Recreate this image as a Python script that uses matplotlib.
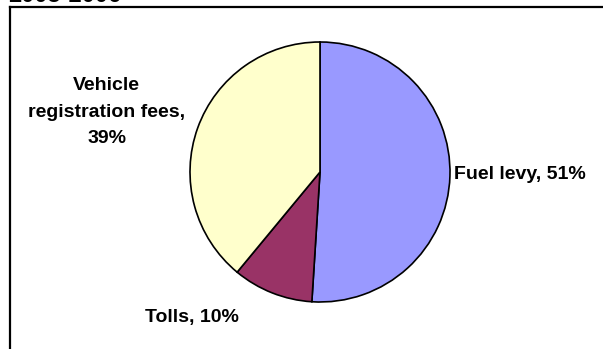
import matplotlib.pyplot as plt
from matplotlib.lines import Line2D

# Revenue shares
categories = ['Fuel levy', 'Tolls', 'Vehicle\nregistration fees']
shares = [51, 10, 39]
colors = ['#9999FF', '#993366', '#FFFFCC']
title = '2005-2006'

W, H = 603, 349
fig = plt.figure(figsize=(W / 100, H / 100), dpi=100)
fig.patch.set_facecolor('white')
plt.rcParams['font.family'] = ['Liberation Sans', 'DejaVu Sans']

# pie centre and radius in pixels
cx, cy, r = 320, 172, 130
ax = fig.add_axes([(cx - r) / W, (H - cy - r) / H, 2 * r / W, 2 * r / H])
wedges, _ = ax.pie(shares, colors=colors, startangle=90, counterclock=False,
                   wedgeprops=dict(edgecolor='black', linewidth=1.2))
ax.set_xlim(-1, 1)
ax.set_ylim(-1, 1)
ax.axis('off')

label_pos = [(1.03, -0.02, 'left'), (-0.985, -1.12, 'center'), (-1.64, 0.46, 'center')]
for name, val, (x, y, ha) in zip(categories, shares, label_pos):
    sep = ',\n' if '\n' in name else ', '
    ax.text(x, y, f'{name}{sep}{val}%', ha=ha, va='center', fontsize=14,
            fontweight='bold', linespacing=1.75, clip_on=False)

# chart border
fig.add_artist(Line2D([9.5 / W, 9.5 / W], [0, 1 - 7 / H], transform=fig.transFigure,
                      color='black', lw=1.6, solid_capstyle='projecting'))
fig.add_artist(Line2D([9.5 / W, 1], [1 - 7 / H, 1 - 7 / H], transform=fig.transFigure,
                      color='black', lw=1.6, solid_capstyle='projecting'))

fig.text(8 / W, 1 - 1.5 / H, title, ha='left', va='baseline', fontsize=17, fontweight='bold')

fig.savefig('out.png', dpi=100)
